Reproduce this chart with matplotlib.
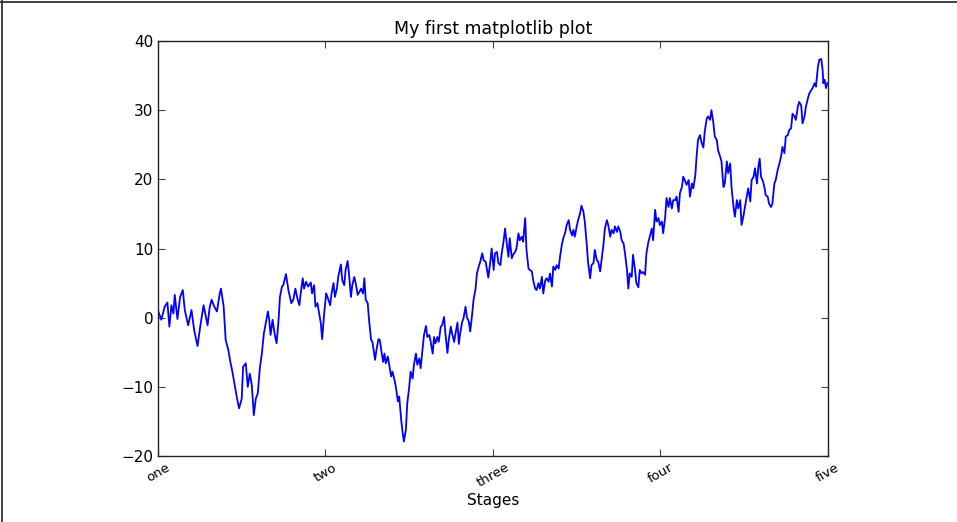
import matplotlib
matplotlib.use("Agg")
import matplotlib.pyplot as plt
from matplotlib.lines import Line2D

# ---- data ----
steps = [0, 5, 10, 14, 17, 20, 23, 25, 29, 33, 37, 40, 45, 50, 54, 59, 63, 68, 74, 77,
         80, 84, 88, 92, 94, 98, 101, 105, 108, 111, 115, 118, 121, 125, 127, 131, 134, 137, 140, 143,
         146, 149, 152, 155, 158, 164, 166, 168, 171, 174, 177, 180, 182, 185, 187, 191, 195, 199, 202, 205,
         208, 211, 213, 216, 218, 221, 224, 228, 230, 233, 235, 238, 240, 243, 245, 248, 251, 253, 257, 259,
         262, 264, 267, 269, 273, 275, 278, 280, 283, 285, 288, 290, 293, 296, 298, 301, 303, 306, 308, 310,
         313, 315, 318, 320, 324, 326, 329, 331, 334, 336, 338, 340, 343, 345, 348, 350, 353, 355, 358, 360,
         363, 365, 367, 370, 372, 375, 377, 380, 382, 385, 387, 390, 392, 395, 397, 400, 402, 405, 407, 410,
         412, 414, 417, 419, 422, 424, 427, 429, 432, 434, 437, 439, 442, 444, 447, 449, 451, 454, 456, 459,
         461, 464, 466, 469, 471, 474, 476, 479, 481, 484, 486, 489, 491, 493, 496, 498, 501, 503, 506, 508,
         511, 513, 516, 518, 520, 523, 525, 528, 530, 533, 535, 538, 540, 543, 545, 548, 550, 553, 555, 558,
         560, 563, 565, 568, 570, 573, 575, 578, 580, 583, 585, 588, 590, 593, 595, 598, 600, 603, 605, 608,
         610, 613, 615, 618, 620, 622, 625, 627, 630, 632, 635, 637, 640, 642, 645, 647, 650, 652, 655, 657,
         660, 662, 665, 667, 670, 672, 675, 677, 680, 682, 685, 687, 690, 692, 695, 697, 700, 702, 704, 707,
         709, 712, 714, 717, 719, 722, 724, 727, 729, 732, 734, 737, 739, 742, 744, 747, 749, 752, 754, 757,
         759, 762, 764, 767, 769, 772, 774, 777, 779, 782, 784, 787, 789, 792, 794, 797, 799, 802, 804, 806,
         809, 811, 814, 816, 819, 821, 824, 826, 829, 831, 834, 836, 839, 841, 844, 846, 849, 851, 854, 856,
         859, 861, 864, 866, 869, 871, 874, 876, 879, 881, 884, 886, 889, 891, 894, 896, 898, 900, 903, 905,
         907, 910, 912, 915, 917, 920, 922, 925, 927, 930, 932, 935, 937, 940, 942, 945, 947, 950, 952, 955,
         957, 960, 962, 965, 967, 970, 972, 975, 977, 980, 982, 985, 987, 990, 992, 993, 995, 997, 999]

walk = [1.0, -0.3, 1.6, 2.2, -1.3, 1.8, 0.6, 3.3, -0.2, 3.0, 4.0, 1.1, -1.1, 1.1, -1.8, -4.1, -1.3, 1.8, -1.1, 1.4,
        2.6, 1.6, 0.9, 3.4, 4.2, 1.6, -3.2, -4.7, -6.4, -7.8, -10.0, -11.7, -13.1, -11.7, -7.1, -6.6, -10.0, -8.1, -9.7, -14.1,
        -11.7, -10.9, -7.3, -5.2, -2.3, 0.9, -0.3, -2.5, -0.3, -2.3, -3.7, -0.3, 3.0, 4.5, 4.7, 6.3, 3.8, 2.1, 2.6, 4.2,
        2.8, 1.8, 3.5, 5.7, 4.2, 5.2, 4.5, 5.1, 3.5, 4.7, 1.6, 2.1, 0.9, -0.8, -3.1, 0.6, 3.5, 3.0, 1.8, 3.5,
        5.0, 3.0, 4.2, 5.9, 7.7, 5.4, 4.7, 6.9, 8.2, 6.4, 3.0, 4.7, 5.9, 4.5, 3.3, 3.8, 4.2, 3.5, 5.7, 2.6,
        2.1, -0.3, -3.2, -3.5, -6.1, -4.7, -3.1, -3.2, -5.2, -6.4, -5.2, -6.6, -5.6, -6.8, -8.5, -7.8, -9.0, -10.0, -12.1, -11.4,
        -14.8, -16.5, -17.9, -16.2, -12.4, -10.0, -7.8, -8.8, -6.8, -5.2, -6.8, -5.9, -7.3, -4.4, -2.5, -1.2, -2.8, -2.5, -3.5, -5.2,
        -2.8, -3.7, -2.8, -3.5, -1.3, -1.1, 0.1, -2.3, -5.1, -3.2, -1.3, -2.3, -3.5, -2.3, -0.7, -3.8, -2.3, -0.6, -0.1, 1.6,
        0.1, -0.6, -2.0, 0.6, 2.6, 4.2, 6.4, 7.5, 8.1, 9.3, 8.3, 8.1, 6.9, 5.8, 8.1, 10.0, 6.9, 9.3, 9.5, 7.9,
        7.6, 9.3, 11.2, 12.9, 11.2, 8.8, 11.5, 8.6, 9.1, 9.5, 10.0, 12.2, 11.2, 11.7, 11.0, 14.4, 9.8, 7.1, 6.9, 6.7,
        5.4, 4.2, 4.0, 5.0, 4.2, 5.9, 3.5, 5.4, 5.7, 5.2, 6.4, 4.5, 7.4, 6.9, 7.6, 7.1, 8.8, 10.7, 11.5, 12.4,
        13.4, 14.1, 12.7, 11.9, 12.7, 11.7, 13.2, 14.1, 15.1, 16.2, 15.3, 13.9, 10.5, 7.9, 5.7, 7.6, 7.9, 9.8, 8.3, 8.1,
        6.7, 8.3, 10.7, 12.9, 14.1, 13.4, 11.7, 12.7, 12.2, 13.2, 12.4, 13.2, 12.4, 11.2, 10.7, 9.3, 6.9, 4.2, 6.4, 5.9,
        9.1, 6.9, 5.0, 4.4, 6.9, 6.4, 6.6, 6.2, 9.3, 11.0, 11.7, 12.9, 11.2, 15.6, 13.9, 14.4, 13.4, 13.9, 12.2, 14.6,
        17.3, 16.0, 17.3, 15.8, 17.0, 17.0, 17.5, 15.3, 18.0, 18.9, 20.4, 19.7, 19.2, 19.9, 17.5, 19.4, 18.7, 20.6, 23.5, 25.7,
        26.4, 25.4, 24.6, 26.9, 28.8, 29.1, 28.6, 30.0, 28.1, 26.2, 25.7, 24.2, 23.3, 22.6, 18.9, 19.4, 22.6, 20.9, 22.3, 18.9,
        16.0, 14.6, 17.0, 15.8, 17.0, 13.4, 14.8, 16.0, 17.7, 18.7, 16.8, 19.9, 20.4, 21.6, 19.4, 21.8, 23.0, 20.4, 19.7, 18.9,
        17.7, 17.5, 16.5, 16.0, 16.5, 19.4, 19.9, 21.4, 22.1, 23.3, 24.7, 23.8, 26.2, 26.4, 27.1, 27.4, 29.5, 29.1, 28.6, 30.5,
        31.2, 30.7, 28.1, 29.1, 30.5, 31.7, 32.4, 32.9, 33.2, 33.9, 33.4, 36.3, 37.3, 37.4, 35.8, 33.9, 34.4, 33.2, 33.9]

tick_positions = [0, 250, 500, 750, 1000]
tick_labels = ["one", "two", "three", "four", "five"]
y_ticks = [-20, -10, 0, 10, 20, 30, 40]

fig = plt.figure(figsize=(9.57, 5.22), dpi=100)
ax = fig.add_axes([0.1651, 0.1264, 0.7001, 0.7950])

ax.plot(steps, walk, color="#0000ff", linewidth=1.3)

ax.set_xlim(0, 1000)
ax.set_ylim(-20, 40)
ax.set_xticks(tick_positions)
ax.set_xticklabels(tick_labels, rotation=30, fontsize=9.5)
ax.set_yticks(y_ticks)
ax.tick_params(axis="y", labelsize=11)
ax.tick_params(direction="in", length=5, width=0.8, top=True, right=True, color="#444444")
for sp in ax.spines.values():
    sp.set_linewidth(1.0)
    sp.set_color("#222222")

ax.set_title("My first matplotlib plot", fontsize=12.5, pad=5)
ax.set_xlabel("Stages", fontsize=11, labelpad=2)

# partial frame around the image (top and left)
fig.add_artist(Line2D([0, 1], [0.9965, 0.9965], transform=fig.transFigure, color="#333333", linewidth=1.3))
fig.add_artist(Line2D([0.0025, 0.0025], [0, 1], transform=fig.transFigure, color="#333333", linewidth=1.3))

fig.savefig("out.png", dpi=100)
